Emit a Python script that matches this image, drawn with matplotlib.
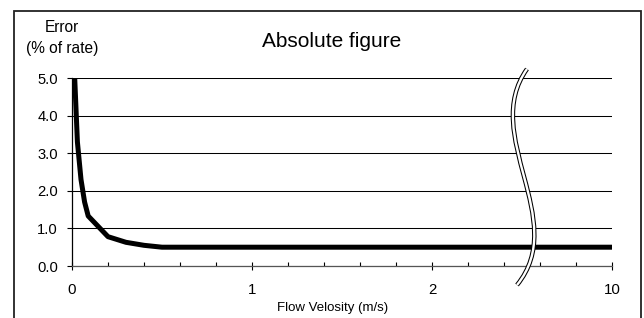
import numpy as np
import matplotlib
matplotlib.use("Agg")
import matplotlib.pyplot as plt
from matplotlib.path import Path
from matplotlib.patches import PathPatch, Rectangle

plt.rcParams["font.family"] = ["Liberation Sans", "DejaVu Sans"]

# values
velocity = [0.015, 0.03, 0.05, 0.07, 0.09, 0.2, 0.3, 0.4, 0.5, 1.0, 2.0, 10.0]
error_pct = [5.0, 3.3, 2.3, 1.7, 1.33, 0.78, 0.63, 0.55, 0.5, 0.5, 0.5, 0.5]
x_ticks = [0, 1, 2, 10]
x_tick_labels = ["0", "1", "2", "10"]
y_ticks = [0.0, 1.0, 2.0, 3.0, 4.0, 5.0]
y_tick_labels = ["0.0", "1.0", "2.0", "3.0", "4.0", "5.0"]

W, H = 644, 318


def forward(v):
    v = np.asarray(v, dtype=float)
    return np.where(v <= 2, v, 2 + (v - 2) / 8)


def inverse(u):
    u = np.asarray(u, dtype=float)
    return np.where(u <= 2, u, 2 + (u - 2) * 8)


fig = plt.figure(figsize=(W / 100, H / 100), dpi=100)
ax = fig.add_axes([72 / W, 1 - 266 / H, 540 / W, 188 / H])

ax.set_xscale("function", functions=(forward, inverse))
ax.plot(velocity, error_pct, color="black", lw=3.6, solid_joinstyle="round",
        solid_capstyle="butt", zorder=3)

ax.set_xlim(0, 10)
ax.set_ylim(0, 5)
ax.set_xticks(x_ticks)
ax.set_xticklabels(x_tick_labels)
ax.set_xticks(inverse(np.arange(0.2, 3.0, 0.2)), minor=True)
ax.set_yticks(y_ticks)
ax.set_yticklabels(y_tick_labels)

ax.yaxis.grid(True, color="black", lw=0.75)
ax.set_axisbelow(True)
for s in ["top", "right"]:
    ax.spines[s].set_visible(False)
ax.spines["left"].set_linewidth(0.9)
ax.spines["bottom"].set_linewidth(0.9)
ax.spines["bottom"].set_color("#555555")

ax.tick_params(axis="x", which="major", direction="inout", length=6, width=0.8,
               labelsize=10.8, pad=9.5, colors="black")
ax.tick_params(axis="x", which="minor", direction="in", length=3, width=0.8)
ax.tick_params(axis="y", direction="out", length=3.5, width=0.8, labelsize=10.6, pad=6.5)

fig.text(331.5 / W, 1 - 46.7 / H, "Absolute figure", fontsize=15,
         ha="center", va="baseline")
fig.text(62 / W, 1 - 37.5 / H, "Error\n(% of rate)", fontsize=11.2,
         ha="center", va="center", multialignment="center", linespacing=1.5)
fig.text(333 / W, 1 - 310.7 / H, "Flow Velosity (m/s)", fontsize=9.5,
         ha="center", va="baseline")

# axis break marker
pts = [(527, 69), (480, 135), (570, 220), (517, 285)]
verts = [(x / W, 1 - y / H) for x, y in pts]
codes = [Path.MOVETO, Path.CURVE4, Path.CURVE4, Path.CURVE4]
brk = Path(verts, codes)
fig.add_artist(PathPatch(brk, fill=False, ec="black", lw=3.2,
                         transform=fig.transFigure, zorder=10))
fig.add_artist(PathPatch(brk, fill=False, ec="white", lw=1.7,
                         transform=fig.transFigure, zorder=11))

# outer frame
fig.add_artist(Rectangle((14 / W, -0.1), 627 / W, 1.1 - 11 / H, fill=False,
                         ec="#222222", lw=1.3, transform=fig.transFigure))

fig.savefig("out.png", dpi=100)
